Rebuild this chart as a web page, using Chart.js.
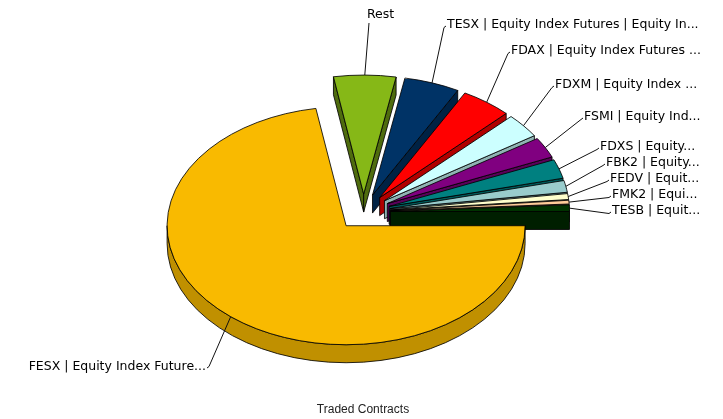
<!DOCTYPE html>
<html>
<head>
<meta charset="utf-8">
<style>
  html, body { margin: 0; padding: 0; background: #fff; }
  canvas { display: block; }
</style>
<script src="https://cdn.jsdelivr.net/npm/chart.js@4"></script>
</head>
<body>
<canvas id="pie" width="723" height="419"></canvas>
<script>
// data (share of traded contracts, %)
const categories = ['FESX | Equity Index Future...', 'Rest', 'TESX | Equity Index Futures | Equity In...',
    'FDAX | Equity Index Futures ...', 'FDXM | Equity Index ...', 'FSMI | Equity Ind...', 'FDXS | Equity...',
    'FBK2 | Equity...', 'FEDV | Equit...', 'FMK2 | Equi...', 'TESB | Equit...'];
const shares = [72.3, 5.6, 5.0, 4.6, 3.3, 2.8, 2.6, 1.6, 0.8, 0.5, 0.9];
const sliceColors = ['#F9BA00', '#86B817', '#003366', '#FF0000', '#CCFFFF', '#800080', '#008080',
    '#99CCCC', '#FFFFCC', '#FFCC99', '#003300'];
const wallColors = ['#C09000', '#4F6C0E', '#002244', '#B00000', '#8FB3B3', '#5A005A', '#005A5A',
    '#6B8F8F', '#B3B38F', '#B38F6B', '#001F00'];

// layout of the fake 3D pie
const CX = 363.5, CY = 212;      // pie centre on screen
const RADIUS = 179;              // horizontal radius
const TILT = 119 / 179;          // vertical squash
const DEPTH = 18;                // wall height on screen
const EXPLODE = 27;              // every slice is pulled out this far
// where each leader line ends (left or right end of the label)
const labelAnchors = [[207, 368], [369, 23], [446, 26], [510, 52], [554, 86], [583, 118], [599, 148],
    [605, 164], [609, 180], [611, 196], [611, 212]];

// wall of one slice: radial faces facing the viewer plus the front part of the rim
function drawWalls(ctx, arc, color) {
    const { x, y, startAngle: a, endAngle: b, outerRadius: r } = arc;
    const d = DEPTH / TILT;
    ctx.fillStyle = color;
    ctx.strokeStyle = '#000';
    ctx.lineWidth = 1;
    ctx.lineJoin = 'round';
    const quad = ang => {
        const px = x + r * Math.cos(ang), py = y + r * Math.sin(ang);
        ctx.beginPath();
        ctx.moveTo(x, y);
        ctx.lineTo(px, py);
        ctx.lineTo(px, py + d);
        ctx.lineTo(x, y + d);
        ctx.closePath();
        ctx.fill();
        ctx.stroke();
    };
    if (Math.cos(a) < 0) quad(a);
    if (Math.cos(b) > 0) quad(b);
    if (a < Math.PI) {
        const e = Math.min(b, Math.PI);
        ctx.beginPath();
        ctx.arc(x, y, r, a, e);
        ctx.arc(x, y + d, r, e, a, true);
        ctx.closePath();
        ctx.fill();
        ctx.stroke();
    }
}

const pie3d = {
    id: 'pie3d',
    // walls and tops painted back to front, the big slice last
    beforeDatasetDraw(chart, args) {
        const ctx = chart.ctx;
        const arcs = args.meta.data;
        const order = arcs.map((_, i) => i).slice(1).concat(0);
        order.forEach(i => {
            const arc = arcs[i];
            const mid = (arc.startAngle + arc.endAngle) / 2;
            ctx.save();
            ctx.translate(CX, CY);
            ctx.scale(1, TILT);
            ctx.translate(-arc.x + EXPLODE * Math.cos(mid), -arc.y + EXPLODE * Math.sin(mid));
            drawWalls(ctx, arc, wallColors[i]);
            arc.draw(ctx);
            ctx.restore();
        });
        return false;
    },
    afterDatasetsDraw(chart) {
        const ctx = chart.ctx;
        ctx.save();
        ctx.font = '12.5px Verdana, "DejaVu Sans"';
        ctx.textBaseline = 'middle';
        ctx.fillStyle = '#000';
        ctx.strokeStyle = '#111';
        ctx.lineWidth = 1;
        chart.getDatasetMeta(0).data.forEach((arc, i) => {
            const mid = (arc.startAngle + arc.endAngle) / 2;
            const sx = CX + (EXPLODE + RADIUS) * Math.cos(mid);
            const sy = CY + (EXPLODE + RADIUS) * Math.sin(mid) * TILT;
            const [ax, ay] = labelAnchors[i];
            const left = i === 0;
            const isRest = i === 1;
            ctx.beginPath();
            ctx.moveTo(sx, sy);
            if (!isRest) ctx.lineTo(left ? ax + 2 : ax - 2, ay + (left ? -1.5 : 1.5));
            ctx.lineTo(ax, ay);
            ctx.stroke();
            ctx.textAlign = left ? 'right' : 'left';
            ctx.fillText(categories[i], left ? ax - 1 : (isRest ? 367 : ax + 1), isRest ? 15 : ay - 1);
        });
        ctx.restore();
    }
};

new Chart(document.getElementById('pie'), {
    type: 'pie',
    data: {
        labels: categories,
        datasets: [{
            data: shares,
            backgroundColor: sliceColors,
            borderColor: '#000',
            borderWidth: 1
        }]
    },
    options: {
        responsive: false,
        animation: false,
        rotation: 90,
        radius: RADIUS,
        layout: { padding: { left: 3 } },
        plugins: {
            legend: { display: false },
            tooltip: { enabled: false },
            title: {
                display: true,
                text: 'Traded Contracts',
                position: 'bottom',
                color: '#222',
                font: { family: '"Liberation Sans", Arial', size: 12, weight: 'normal' },
                padding: { top: 0, bottom: 2 }
            }
        }
    },
    plugins: [pie3d]
});
</script>
</body>
</html>
